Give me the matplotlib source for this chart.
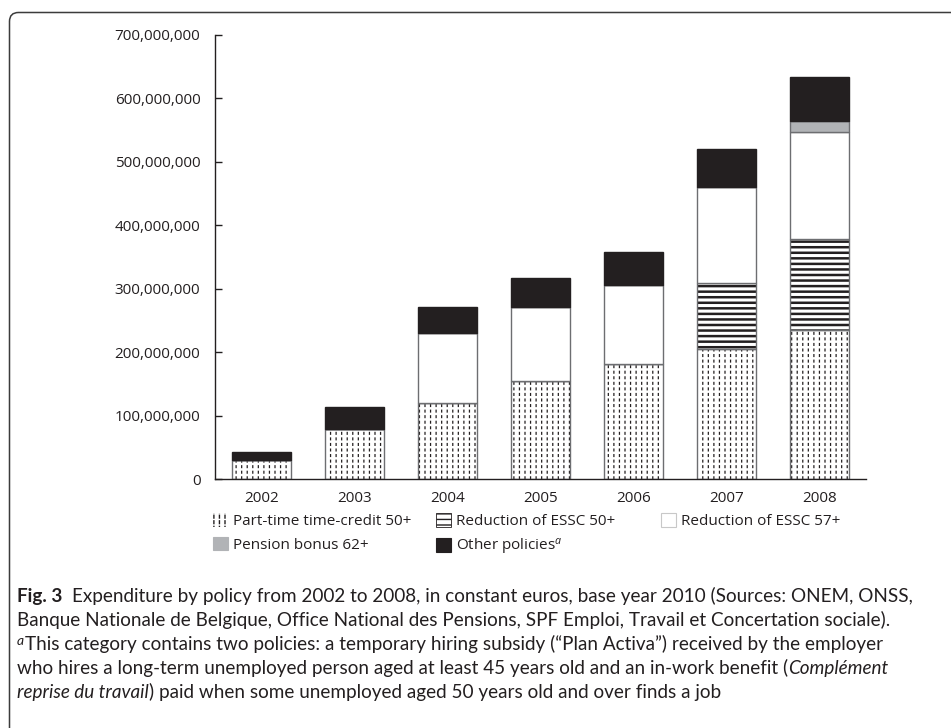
import matplotlib
matplotlib.use("Agg")
import matplotlib.pyplot as plt
import numpy as np
from matplotlib.patches import Patch, FancyBboxPatch
from matplotlib.ticker import StrMethodFormatter
from matplotlib.transforms import IdentityTransform

# expenditure per policy, euros
years = ["2002", "2003", "2004", "2005", "2006", "2007", "2008"]
part_time = np.array([30.5, 80, 120.5, 155.5, 182, 206, 236]) * 1e6
essc50 = np.array([0, 0, 0, 0, 0, 103, 142]) * 1e6
essc57 = np.array([0, 0, 110, 116, 124, 152, 169]) * 1e6
pension = np.array([0, 0, 0, 0, 0, 0, 18]) * 1e6
other = np.array([13, 34.5, 41, 45.5, 51.5, 59, 69]) * 1e6
yticks = np.arange(0, 700e6 + 1, 100e6)

plt.rcParams["font.family"] = ["Open Sans", "DejaVu Sans"]
plt.rcParams["mathtext.fontset"] = "custom"
plt.rcParams["mathtext.it"] = "Open Sans:italic"
plt.rcParams["mathtext.rm"] = "Open Sans"
plt.rcParams["hatch.linewidth"] = 1.0

W, H = 951, 728
ink = "#231f20"
edge = "#6d6e71"
grey = "#b1b3b6"


def fx(px):
    return px / W


def fy(py):
    return 1 - py / H


def hatch_lw(patches, lw):
    for p in patches:
        if hasattr(p, "set_hatch_linewidth"):
            p.set_hatch_linewidth(lw)


fig = plt.figure(figsize=(W / 100, H / 100), dpi=100)
ax = fig.add_axes([fx(215), fy(479.3), fx(866) - fx(215), fy(35) - fy(479.3)])

x = np.arange(len(years))
w = 0.645
bottom = np.zeros(len(years))

# part-time credit: vertical lines broken by white dashes
with plt.rc_context({"hatch.linewidth": 0.9}):
    b = ax.bar(x, part_time, w, bottom=bottom, facecolor="white", edgecolor=ink, linewidth=0, hatch="|||")
    hatch_lw(b, 0.9)
with plt.rc_context({"hatch.linewidth": 1.8}):
    b = ax.bar(x, part_time, w, bottom=bottom, facecolor="none", edgecolor="white", linewidth=0, hatch="---")
    hatch_lw(b, 1.8)
ax.bar(x, part_time, w, bottom=bottom, facecolor="none", edgecolor=edge, linewidth=1.0)
bottom = bottom + part_time

# ESSC 50+: horizontal stripes
with plt.rc_context({"hatch.linewidth": 1.8}):
    b = ax.bar(x, essc50, w, bottom=bottom, facecolor="white", edgecolor=ink, linewidth=0, hatch="---")
    hatch_lw(b, 1.8)
ax.bar(x, essc50, w, bottom=bottom, facecolor="none", edgecolor=edge, linewidth=1.0)
bottom = bottom + essc50

ax.bar(x, essc57, w, bottom=bottom, facecolor="white", edgecolor=edge, linewidth=1.0)
bottom = bottom + essc57
ax.bar(x, pension, w, bottom=bottom, facecolor=grey, edgecolor=edge, linewidth=1.0)
bottom = bottom + pension
ax.bar(x, other, w, bottom=bottom, facecolor=ink, edgecolor=ink, linewidth=1.0)

ax.set_xlim(-0.5, len(years) - 0.5)
ax.set_ylim(0, 700e6)
ax.set_yticks(yticks)
ax.yaxis.set_major_formatter(StrMethodFormatter("{x:,.0f}"))
ax.set_xticks(x)
ax.set_xticklabels(years)
for s in ["top", "right"]:
    ax.spines[s].set_visible(False)
for s in ["left", "bottom"]:
    ax.spines[s].set_color(ink)
    ax.spines[s].set_linewidth(1.0)
ax.tick_params(axis="y", direction="in", length=5, width=1.0, color=ink, labelsize=11, labelcolor=ink, pad=10.5)
ax.tick_params(axis="x", length=0, labelsize=11, labelcolor=ink, pad=8.5)

# legend, three columns placed on a grid
h_pt = (Patch(facecolor="white", edgecolor=ink, linewidth=0, hatch="|||"),
        Patch(facecolor="none", edgecolor="white", linewidth=0, hatch="---"))
hatch_lw([h_pt[0]], 0.9)
hatch_lw([h_pt[1]], 1.8)
h_e50 = Patch(facecolor="white", edgecolor=ink, linewidth=0.6, hatch="---")
hatch_lw([h_e50], 1.8)
h_e57 = Patch(facecolor="white", edgecolor="#c8c8c8", linewidth=0.8)
h_pen = Patch(facecolor=grey, edgecolor=grey, linewidth=0.8)
h_oth = Patch(facecolor=ink, edgecolor=ink, linewidth=0.8)

cols = [
    (213, [h_pt, h_pen], ["Part-time time-credit 50+", "Pension bonus 62+"]),
    (436, [h_e50, h_oth], ["Reduction of ESSC 50+", "Other policies$^{a}$"]),
    (661, [h_e57], ["Reduction of ESSC 57+"]),
]
for px, hs, ls in cols:
    fig.legend(hs, ls, loc="upper left", bbox_to_anchor=(fx(px), fy(513)), frameon=False,
               fontsize=11, handlelength=1.0, handleheight=1.0, handletextpad=0.3,
               labelspacing=0.5, borderpad=0, borderaxespad=0, labelcolor=ink)

# frame around the figure
frame = FancyBboxPatch((9.5, -30), 1000, H - 12.5 + 30, boxstyle="round,pad=0,rounding_size=9",
                       facecolor="none", edgecolor="#3c3c3c", linewidth=1.1, transform=IdentityTransform())
fig.add_artist(frame)

# caption
cap_font = ["Lato", "DejaVu Sans"]
cap_size = 13.6
r = fig.canvas.get_renderer()


def width(t):
    return t.get_window_extent(renderer=r).width


probe1 = fig.text(0, 0, "x x", fontsize=cap_size, family=cap_font)
probe2 = fig.text(0, 0, "xx", fontsize=cap_size, family=cap_font)
space = width(probe1) - width(probe2)
probe1.remove()
probe2.remove()


def caption_line(y, parts, x0=17):
    xx = x0
    for s, kw, gap in parts:
        kw = dict(kw)
        size = kw.pop("size", cap_size)
        yy = y - kw.pop("rise", 0)
        t = fig.text(fx(xx), fy(yy), s, va="baseline", ha="left", color=ink,
                     fontsize=size, family=cap_font, **kw)
        xx += width(t) + gap


caption_line(602, [("Fig. 3", {"weight": "bold"}, 2 * space),
                   ("Expenditure by policy from 2002 to 2008, in constant euros, base year 2010 (Sources: ONEM, ONSS,", {}, 0)])
caption_line(626, [("Banque Nationale de Belgique, Office National des Pensions, SPF Emploi, Travail et Concertation sociale).", {}, 0)])
caption_line(650, [("a", {"style": "italic", "size": 10, "rise": 5}, 1),
                   ("This category contains two policies: a temporary hiring subsidy (\u201cPlan Activa\u201d) received by the employer", {}, 0)])
caption_line(674, [("who hires a long-term unemployed person aged at least 45 years old and an in-work benefit (", {}, 0),
                   ("Compl\u00e9ment", {"style": "italic"}, 0)])
caption_line(698, [("reprise du travail", {"style": "italic"}, 0),
                   (") paid when some unemployed aged 50 years old and over finds a job", {}, 0)])

fig.savefig("out.png", dpi=100)
